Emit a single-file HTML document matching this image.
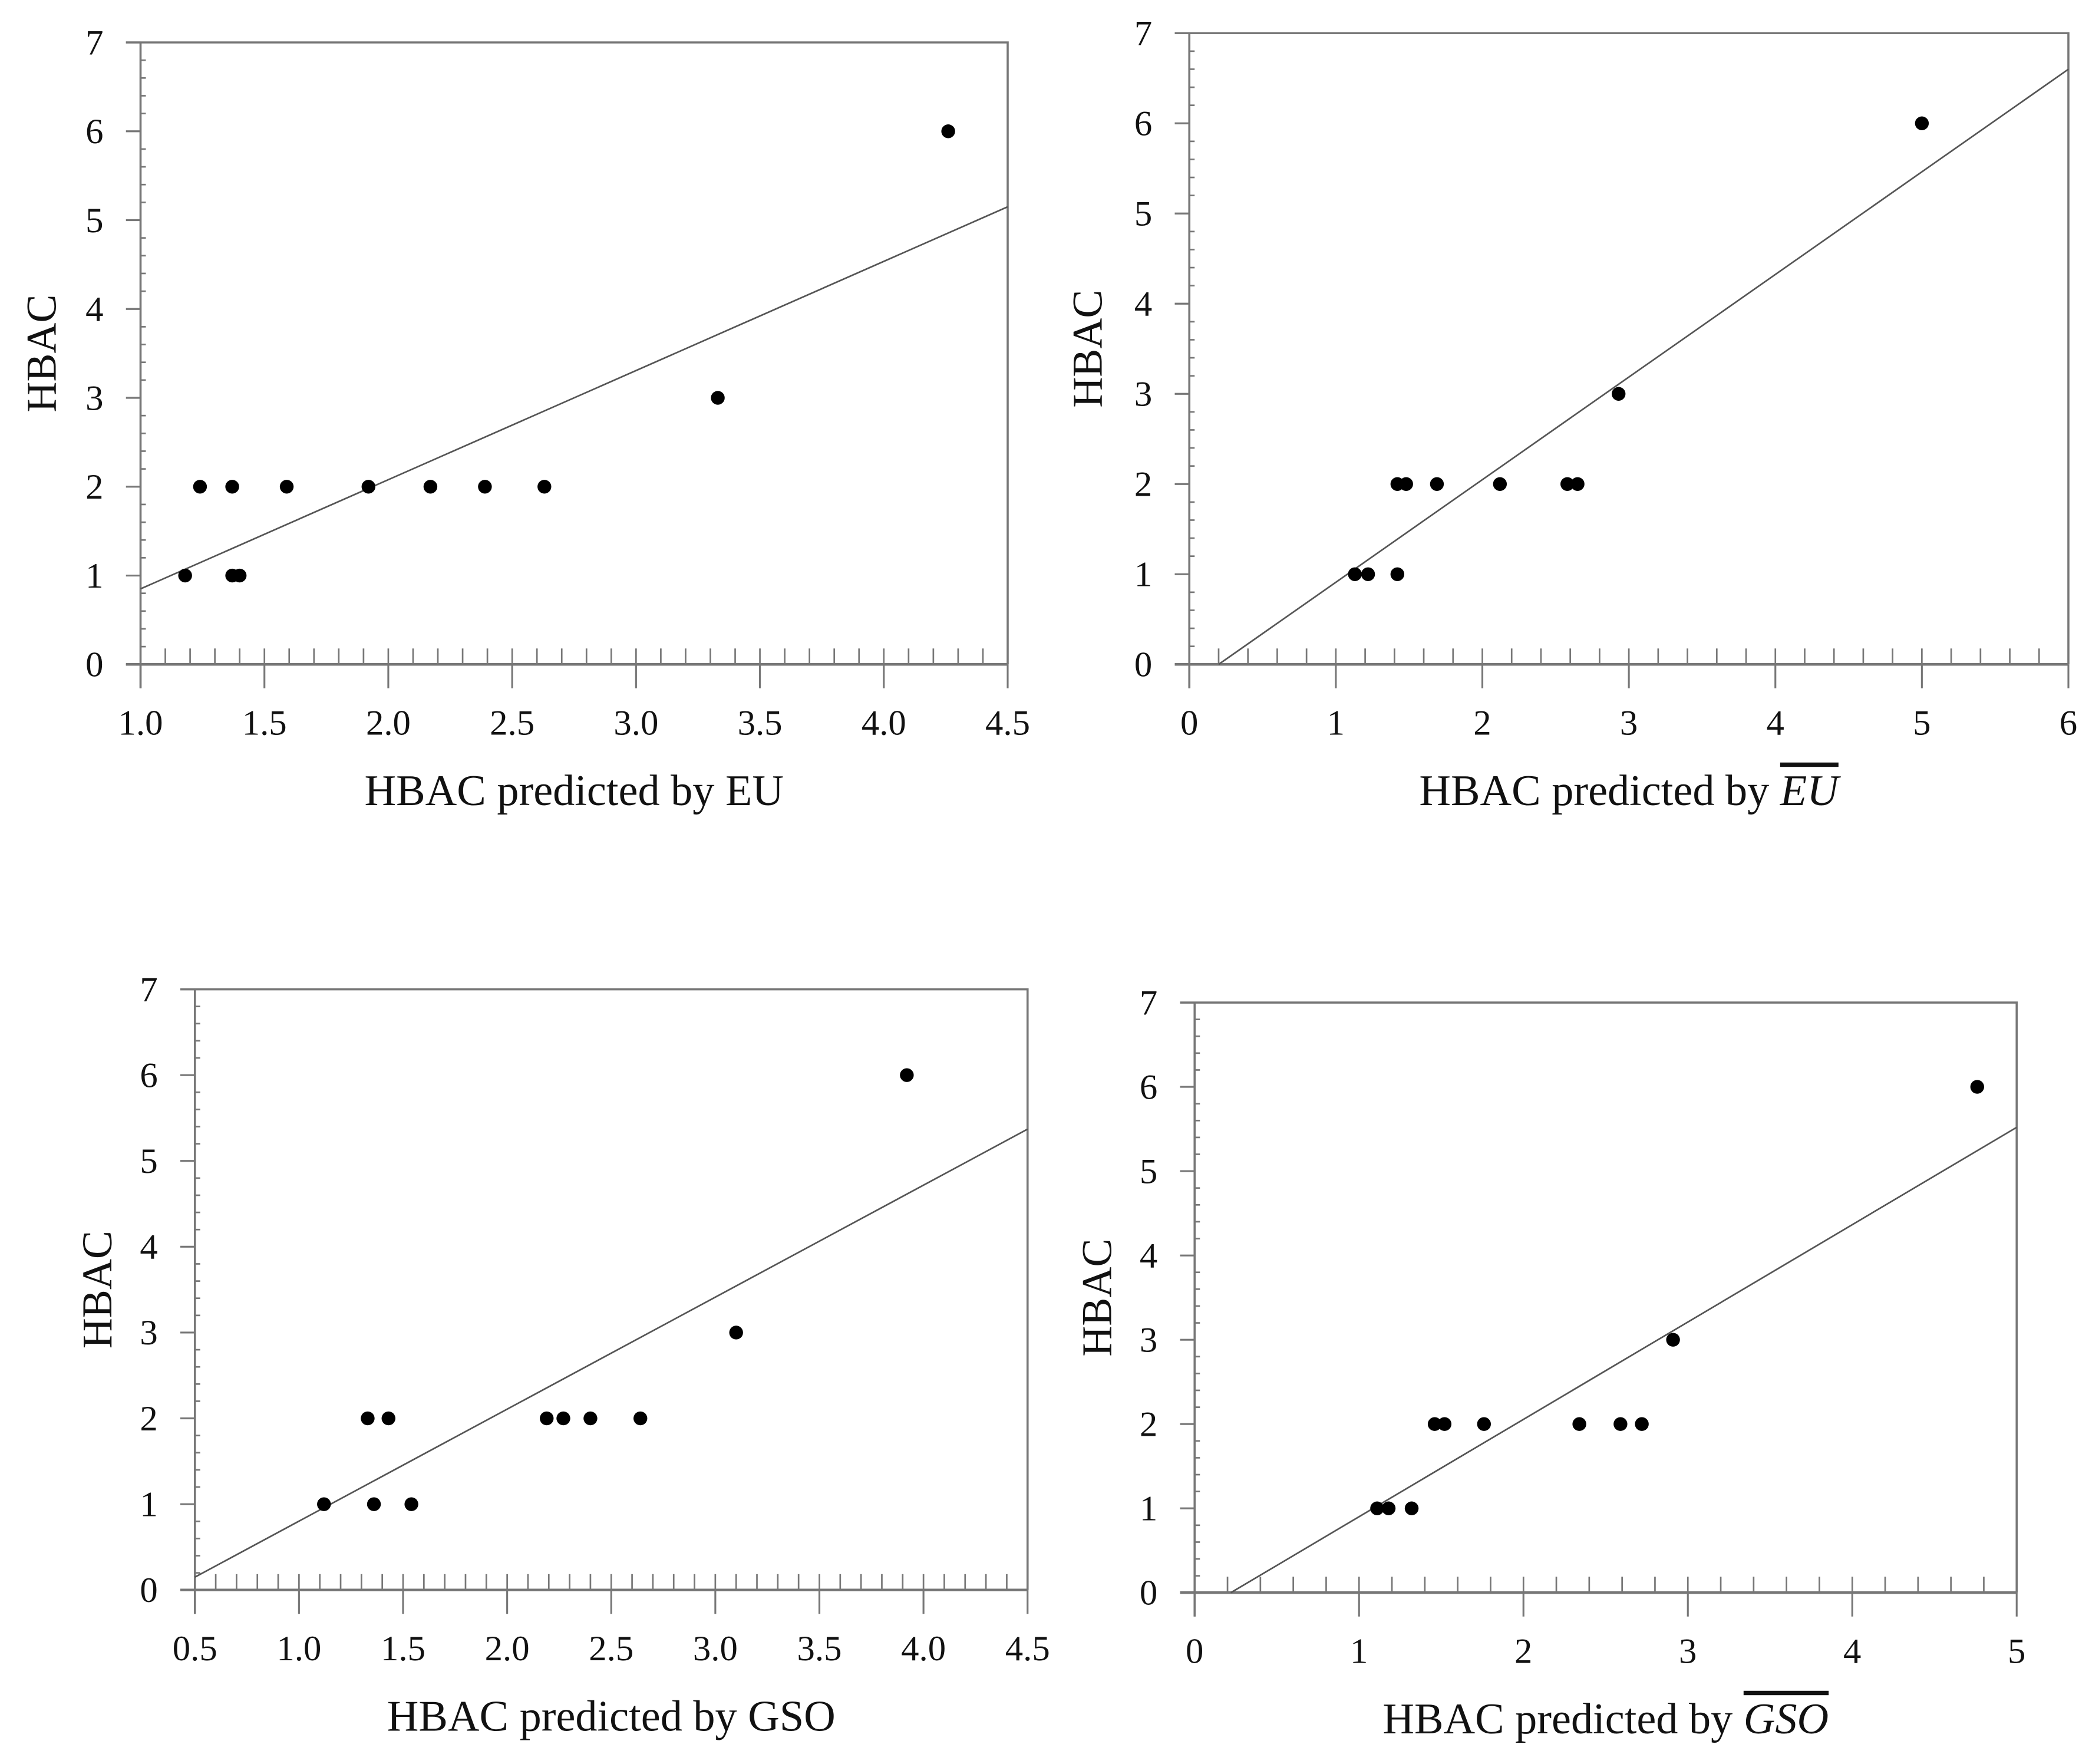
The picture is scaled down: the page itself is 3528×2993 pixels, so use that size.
<!DOCTYPE html>
<html><head><meta charset="utf-8"><style>
html,body{margin:0;padding:0;background:#fff}
svg{display:block}
text{font-family:"Liberation Serif",serif;fill:#111}
</style></head><body>
<svg id="fig" width="3528" height="2993" viewBox="0 0 1568 1330.2" preserveAspectRatio="none" xmlns="http://www.w3.org/2000/svg"></svg>
<script>
// Panel A data (EU)
const xA = [1.18,1.24,1.37,1.37,1.40,1.59,1.92,2.17,2.39,2.63,3.33,4.26];
const yA = [1,2,2,1,1,2,2,2,2,2,3,6];
const fitA = [[1.0,0.85],[4.5,5.15]];
const xTicksA = ["1.0","1.5","2.0","2.5","3.0","3.5","4.0","4.5"];
// Panel B data (EU bar)
const xB = [1.13,1.22,1.42,1.42,1.48,1.69,2.12,2.58,2.65,2.93,5.0];
const yB = [1,1,1,2,2,2,2,2,2,3,6];
const fitB = [[0.2,0],[6,6.6]];
const xTicksB = ["0","1","2","3","4","5","6"];
// Panel C data (GSO)
const xC = [1.12,1.33,1.36,1.43,1.54,2.19,2.27,2.40,2.64,3.10,3.92];
const yC = [1,2,1,2,1,2,2,2,2,3,6];
const fitC = [[0.5,0.15],[4.5,5.37]];
const xTicksC = ["0.5","1.0","1.5","2.0","2.5","3.0","3.5","4.0","4.5"];
// Panel D data (GSO bar)
const xD = [1.11,1.18,1.32,1.46,1.52,1.76,2.34,2.59,2.72,2.91,4.76];
const yD = [1,1,1,2,2,2,2,2,2,3,6];
const fitD = [[0.22,0],[5,5.52]];
const xTicksD = ["0","1","2","3","4","5"];
const yTicks = ["0","1","2","3","4","5","6","7"];

const NS="http://www.w3.org/2000/svg";
const svg=document.getElementById('fig');
function mk(tag,attrs,parent){const e=document.createElementNS(NS,tag);for(const k in attrs)e.setAttribute(k,attrs[k]);parent.appendChild(e);return e;}

function panel(id,box,xs,ys,fit,xt,xMinorStep,title,bar,ylabX){
  const g=mk('g',{},svg);
  
  
  const [L,T,R,B]=box;
  const x0=parseFloat(xt[0]),x1=parseFloat(xt[xt.length-1]);
  const sx=v=>L+(v-x0)/(x1-x0)*(R-L);
  const sy=v=>B-v/7*(B-T);
  const ax='#777';
  const fr=mk('path',{d:`M${L-11} ${T}H${R}V${B}`,fill:'none',stroke:ax,'stroke-width':1.6},g);
  
  
  const xa=mk('line',{x1:L-11,y1:B,x2:R,y2:B,stroke:ax,'stroke-width':2},g);
  
  
  const ya=mk('line',{x1:L,y1:T,x2:L,y2:B+18,stroke:ax,'stroke-width':1.6},g);
  
  
  xt.forEach(t=>{const v=parseFloat(t),X=sx(v);
    mk('line',{x1:X,y1:B,x2:X,y2:B+18,stroke:ax,'stroke-width':1.4},g);
    const tx=mk('text',{x:X,y:B+53,'text-anchor':'middle','font-size':27},g);tx.textContent=t;
    
    
  });
  for(let v=x0+xMinorStep;v<x1-1e-6;v+=xMinorStep){const X=sx(v);
    mk('line',{x1:X,y1:B,x2:X,y2:B-12,stroke:ax,'stroke-width':1.2},g);}
  yTicks.forEach(t=>{const v=parseFloat(t),Y=sy(v);
    mk('line',{x1:L-11,y1:Y,x2:L,y2:Y,stroke:ax,'stroke-width':1.4},g);
    const tx=mk('text',{x:L-28,y:Y+9,'text-anchor':'end','font-size':27},g);tx.textContent=t;
    
    
  });
  for(let v=0.2;v<7-1e-6;v+=0.2){if(Math.abs(v-Math.round(v))<1e-6)continue;const Y=sy(v);
    mk('line',{x1:L,y1:Y,x2:L+4,y2:Y,stroke:ax,'stroke-width':1.2},g);}
  const fl=mk('line',{x1:sx(fit[0][0]),y1:sy(fit[0][1]),x2:sx(fit[1][0]),y2:sy(fit[1][1]),stroke:'#555','stroke-width':1.2},g);
  
  
  xs.forEach((x,i)=>{const c=mk('circle',{cx:sx(x),cy:sy(ys[i]),r:5.2,fill:'#000'},g);
    
    
  });
  const yl=mk('text',{x:ylabX,y:(T+B)/2,'text-anchor':'middle','font-size':32,transform:`rotate(-90 ${ylabX} ${(T+B)/2})`},g);
  yl.textContent='HBAC';
  
  
  const cx=(L+R)/2, ty=B+106;
  const xl=mk('text',{x:cx,y:ty,'text-anchor':'middle','font-size':33},g);
  
  
  if(bar){
    xl.textContent='HBAC predicted by ';
    const s=mk('tspan',{'font-style':'italic','text-decoration':'overline'},xl);s.textContent=title;
  } else xl.textContent='HBAC predicted by '+title;
}
panel('chart-eu',[106,32,760,501],xA,yA,fitA,xTicksA,0.1,'EU',false,42);
panel('chart-eu-bar',[897,25,1560,501],xB,yB,fitB,xTicksB,0.2,'EU',true,831);
panel('chart-gso',[147,746,775,1199],xC,yC,fitC,xTicksC,0.1,'GSO',false,84);
panel('chart-gso-bar',[901,756,1521,1201],xD,yD,fitD,xTicksD,0.2,'GSO',true,838);
</script>
</body></html>
